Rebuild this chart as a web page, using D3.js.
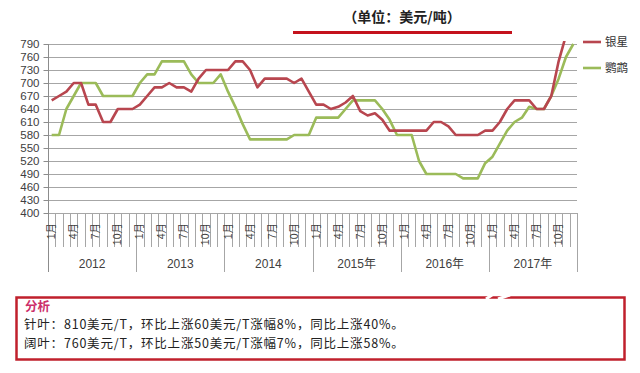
<!DOCTYPE html>
<html>
<head>
<meta charset="utf-8">
<script src="https://cdn.jsdelivr.net/npm/d3@7"></script>
<style>
  body { margin: 0; background: #fff; }
  svg { display: block; }
</style>
</head>
<body>
<svg id="chart" width="640" height="373"></svg>
<script>
// 数据
const yearLabels = ['2012', '2013', '2014', '2015年', '2016年', '2017年'];
const monthLabels = ['1月', '2月', '3月', '4月', '5月', '6月', '7月', '8月', '9月', '10月', '11月', '12月'];
const shownMonths = ['1月', '4月', '7月', '10月'];
const yTicks = [400, 430, 460, 490, 520, 550, 580, 610, 640, 670, 700, 730, 760, 790];
const seriesNames = ['银星', '鹦鹉'];

const yinxing = [
  660, 670, 680, 700, 700, 650, 650, 610, 610, 640, 640, 640,
  650, 670, 690, 690, 700, 690, 690, 680, 710, 730, 730, 730,
  730, 750, 750, 730, 690, 710, 710, 710, 710, 700, 710, 680,
  650, 650, 640, 645, 655, 670, 635, 625, 630, 615, 590, 590,
  590, 590, 590, 590, 610, 610, 600, 580, 580, 580, 580, 590,
  590, 610, 640, 660, 660, 660, 640, 640, 670, 750, 810, null
];
const yingwu = [
  580, 580, 640, 670, 700, 700, 700, 670, 670, 670, 670, 670,
  700, 720, 720, 750, 750, 750, 750, 720, 700, 700, 700, 720,
  680, 645, 605, 570, 570, 570, 570, 570, 570, 580, 580, 580,
  620, 620, 620, 620, 640, 660, 660, 660, 660, 640, 615, 580,
  580, 580, 520, 490, 490, 490, 490, 490, 480, 480, 480, 515,
  530, 560, 590, 610, 620, 645, 640, 640, 670, 710, 760, 790
];

const categories = yearLabels.flatMap(y => monthLabels.map(m => y + '|' + m));

// 布局
const plotLeft = 48, plotRight = 577, plotTop = 44, plotBottom = 213;
const colors = ['#b8464f', '#9bbb59'];

const svg = d3.select('#chart');

const x = d3.scaleBand().domain(categories).range([plotLeft, plotRight]).padding(0);
const y = d3.scaleLinear().domain([400, 790]).range([plotBottom, plotTop]);

// 网格线
svg.append('g')
  .selectAll('line')
  .data(yTicks)
  .enter()
  .append('line')
  .attr('x1', plotLeft).attr('x2', plotRight)
  .attr('y1', d => Math.round(y(d)) + 0.5).attr('y2', d => Math.round(y(d)) + 0.5)
  .attr('stroke', '#a6a6a6').attr('stroke-width', 1);

// Y轴
const yAxis = svg.append('g')
  .attr('transform', `translate(${plotLeft + 0.5},0)`)
  .call(d3.axisLeft(y).tickValues(yTicks).tickSize(5).tickPadding(4));
yAxis.select('.domain').attr('stroke', '#8c8c8c').attr('d', `M0,${plotTop}V${plotBottom + 34}`);
yAxis.selectAll('.tick line').attr('stroke', '#8c8c8c');
yAxis.selectAll('.tick text')
  .attr('fill', '#404040')
  .style('font-family', '"Liberation Sans", Arial, sans-serif')
  .style('font-size', '11.5px');

// X轴 - 月份分隔线
const bw = x.bandwidth();
svg.append('g')
  .selectAll('line')
  .data(categories)
  .enter()
  .append('line')
  .attr('x1', d => Math.round(x(d) + bw) + 0.5)
  .attr('x2', d => Math.round(x(d) + bw) + 0.5)
  .attr('y1', plotBottom)
  .attr('y2', (d, i) => (i % 12 === 11) ? plotBottom + 59 : plotBottom + 34)
  .attr('stroke', '#a6a6a6').attr('stroke-width', 1);

svg.append('line')
  .attr('x1', plotLeft + 0.5).attr('x2', plotLeft + 0.5)
  .attr('y1', plotBottom).attr('y2', plotBottom + 59)
  .attr('stroke', '#8c8c8c');

// 月份标签
svg.append('g')
  .selectAll('text')
  .data(categories.filter(d => shownMonths.includes(d.split('|')[1])))
  .enter()
  .append('text')
  .attr('transform', d => `translate(${x(d) + bw / 2 + 3.5},${plotBottom + 10}) rotate(-90)`)
  .attr('text-anchor', 'end')
  .attr('fill', '#404040')
  .style('font-family', '"Liberation Sans", "Noto Sans CJK SC", sans-serif')
  .style('font-size', '10.5px')
  .text(d => d.split('|')[1]);

// 年份标签
svg.append('g')
  .selectAll('text')
  .data(yearLabels)
  .enter()
  .append('text')
  .attr('x', d => x(d + '|1月') + bw * 6)
  .attr('y', plotBottom + 55)
  .attr('text-anchor', 'middle')
  .attr('fill', '#404040')
  .style('font-family', '"Liberation Sans", "Noto Sans CJK SC", sans-serif')
  .style('font-size', '12px')
  .text(d => d);

// 折线
svg.append('clipPath').attr('id', 'plotClip')
  .append('rect')
  .attr('x', plotLeft).attr('y', plotTop - 3)
  .attr('width', plotRight - plotLeft + 4).attr('height', plotBottom - plotTop + 6);

const line = d3.line()
  .defined(d => d != null)
  .x((d, i) => x(categories[i]) + bw / 2)
  .y(d => y(d));

const series = [yinxing, yingwu];
// 绿色在下，红色在上
svg.append('g')
  .attr('clip-path', 'url(#plotClip)')
  .selectAll('path')
  .data([1, 0])
  .enter()
  .append('path')
  .attr('d', k => line(series[k]))
  .attr('fill', 'none')
  .attr('stroke', k => colors[k])
  .attr('stroke-width', 2.6)
  .attr('stroke-linejoin', 'round');

// 图例
const legend = svg.append('g');
seriesNames.forEach((name, k) => {
  const ly = 42 + k * 26;
  legend.append('line')
    .attr('x1', 583).attr('x2', 601)
    .attr('y1', ly).attr('y2', ly)
    .attr('stroke', colors[k]).attr('stroke-width', 2.6);
  legend.append('text')
    .attr('x', 605).attr('y', ly + 4)
    .attr('fill', '#333')
    .style('font-family', '"Noto Sans CJK SC", sans-serif')
    .style('font-size', '11.5px')
    .text(name);
});

// 标题
svg.append('text')
  .attr('x', 402).attr('y', 22)
  .attr('text-anchor', 'middle')
  .attr('fill', '#222')
  .style('font-family', '"Noto Sans CJK SC", sans-serif')
  .style('font-size', '14px')
  .style('font-weight', 'bold')
  .text('（单位：美元/吨）');

svg.append('line')
  .attr('x1', 293).attr('x2', 512)
  .attr('y1', 32.5).attr('y2', 32.5)
  .attr('stroke', '#c4121c').attr('stroke-width', 3);

// 分析框
svg.append('rect')
  .attr('x', 16.5).attr('y', 297.5)
  .attr('width', 608).attr('height', 62)
  .attr('fill', '#fff')
  .attr('stroke', '#c0202c').attr('stroke-width', 2.5);

svg.append('path')
  .attr('d', 'M486,299 L492,295 M498,299 L510,295')
  .attr('stroke', '#fff').attr('stroke-width', 3);

const analysisLines = [
  '针叶：810美元/T，环比上涨60美元/T涨幅8%，同比上涨40%。',
  '阔叶：760美元/T，环比上涨50美元/T涨幅7%，同比上涨58%。'
];

svg.append('text')
  .attr('x', 25).attr('y', 310.5)
  .attr('fill', '#cc2f6a')
  .style('font-family', '"Noto Sans CJK SC", sans-serif')
  .style('font-size', '12.5px')
  .style('font-weight', 'bold')
  .text('分析');

svg.append('g')
  .selectAll('text')
  .data(analysisLines)
  .enter()
  .append('text')
  .attr('x', 24)
  .attr('y', (d, i) => 329 + i * 18.5)
  .attr('fill', '#222')
  .style('font-family', '"Noto Sans CJK SC", sans-serif')
  .style('font-size', '12.5px')
  .style('letter-spacing', '0.8px')
  .text(d => d);
</script>
</body>
</html>
